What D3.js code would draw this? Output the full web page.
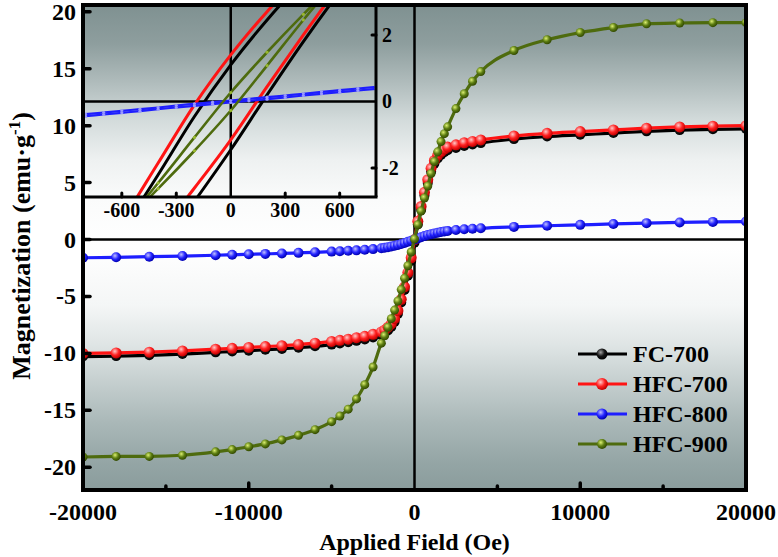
<!DOCTYPE html>
<html><head><meta charset="utf-8">
<script src="https://cdn.jsdelivr.net/npm/d3@7"></script>
<style>
body{margin:0;background:#fff}
svg{display:block}
text{font-family:"Liberation Serif","Times New Roman",serif;font-weight:bold;fill:#000}
</style>
</head><body>
<svg id="c" width="778" height="557"></svg>
<script>
// ---------- data ----------
const seriesNames = ["FC-700", "HFC-700", "HFC-800", "HFC-900"];
const fieldMain = [-20000,-18000,-16000,-14000,-12000,-11000,-10000,-9000,-8000,-7000,-6000,-5000,-4500,-4000,-3500,-3000,-2500,-2000,-1800,-1600,-1400,-1200,-1000,-800,-600,-400,-200,0,200,400,600,800,1000,1200,1400,1600,1800,2000,2500,3000,3500,4000,6000,8000,10000,12000,14000,16000,18000,20000];
const fc700 = [-10.28,-10.24,-10.17,-10.06,-9.91,-9.84,-9.76,-9.68,-9.61,-9.5,-9.38,-9.23,-9.13,-9.03,-8.9,-8.78,-8.6,-8.4,-8.23,-7.98,-7.68,-7.23,-6.53,-5.53,-4.43,-3.18,-1.88,-0.28,1.32,2.62,3.87,4.97,5.97,6.67,7.12,7.42,7.67,7.84,8.04,8.22,8.34,8.47,8.82,9.05,9.2,9.35,9.5,9.61,9.68,9.72];
const hfc700 = [-10.0,-9.96,-9.89,-9.78,-9.63,-9.56,-9.48,-9.4,-9.33,-9.22,-9.1,-8.95,-8.85,-8.75,-8.62,-8.5,-8.32,-8.12,-7.95,-7.7,-7.4,-6.95,-6.25,-5.25,-4.15,-2.9,-1.6,0.0,1.6,2.9,4.15,5.25,6.25,6.95,7.4,7.7,7.95,8.12,8.32,8.5,8.62,8.75,9.1,9.33,9.48,9.63,9.78,9.89,9.96,10.0];
const hfc800 = [-1.6,-1.56,-1.51,-1.45,-1.38,-1.34,-1.3,-1.26,-1.22,-1.17,-1.12,-1.06,-1.03,-0.99,-0.95,-0.9,-0.84,-0.77,-0.72,-0.67,-0.61,-0.54,-0.47,-0.4,-0.3,-0.2,-0.1,0.0,0.1,0.2,0.3,0.4,0.47,0.54,0.6,0.66,0.71,0.76,0.84,0.9,0.95,0.99,1.11,1.21,1.29,1.37,1.44,1.5,1.55,1.58];
const hfc900 = [-19.1,-19.05,-19.05,-18.95,-18.65,-18.45,-18.2,-17.95,-17.6,-17.2,-16.7,-16.0,-15.5,-14.9,-14.0,-12.75,-11.2,-9.1,-8.45,-7.7,-6.95,-6.2,-5.4,-4.4,-3.4,-2.3,-1.1,0.05,1.3,2.5,3.65,4.7,5.8,6.85,7.7,8.6,9.3,9.9,11.5,12.8,13.9,14.75,16.6,17.55,18.18,18.62,18.95,19.02,19.05,19.05];

const insetField = [-800,-600,-400,-200,0,200,400,600,800];
const fc700Up    = [-5.5,-3.9,-2.2,-0.45,1.1,2.45,3.65,4.7,5.55];
const fc700Down  = [-7.2,-5.9,-4.5,-3.0,-1.45,0.2,1.8,3.3,4.7];
const hfc700Up   = [-5.2,-3.6,-1.85,-0.1,1.4,2.7,3.85,4.85,5.7];
const hfc700Down = [-6.8,-5.4,-4.0,-2.6,-1.15,0.45,2.0,3.5,4.9];
const hfc900Up   = [-5.0,-3.75,-2.45,-1.08,0.27,1.48,2.62,3.7,4.7];
const hfc900Down = [-4.7,-3.7,-2.62,-1.48,-0.27,1.08,2.45,3.75,5.0];
const insetFieldFine = [-800,-700,-600,-500,-400,-300,-200,-100,0,100,200,300,400,500,600,700,800];
const hfc800Up   = [-0.38,-0.33,-0.28,-0.23,-0.18,-0.12,-0.07,-0.02,0.03,0.08,0.13,0.18,0.23,0.29,0.34,0.39,0.44];
const hfc800Down = [-0.44,-0.39,-0.34,-0.29,-0.23,-0.18,-0.13,-0.08,-0.03,0.02,0.07,0.12,0.18,0.23,0.28,0.33,0.38];

const xTicksMain = [-20000,-10000,0,10000,20000];
const xMinorMain = [-15000,-5000,5000,15000];
const yTicksMain = [-20,-15,-10,-5,0,5,10,15,20];
const xTicksInset = [-600,-300,0,300,600];
const yTicksInset = [-2,0,2];

// ---------- styles ----------
const colors = {"FC-700":"#000000","HFC-700":"#ff1414","HFC-800":"#1e1eff","HFC-900":"#4e6b0e"};
const grad = {"FC-700":["#a0a0a0","#151515","#000000"],"HFC-700":["#ffc8c8","#ff2222","#c00000"],"HFC-800":["#c0c0ff","#2424ff","#0000b0"],"HFC-900":["#dcf070","#5c7d12","#334a00"]};
const radius = {"FC-700":5,"HFC-700":5.5,"HFC-800":5,"HFC-900":4.5};

const svg = d3.select("#c");
const L=83, R=746, T=5, B=490;
const x = d3.scaleLinear().domain([-20000,20000]).range([L,R]);
const y = d3.scaleLinear().domain([-22,20.6]).range([B,T]);

const defs = svg.append("defs");
const bg = defs.append("linearGradient").attr("id","bg").attr("x1",0).attr("y1",0).attr("x2",0).attr("y2",1);
[[0,"#7f9191"],[0.08,"#8e9e9e"],[0.16,"#b0bcbc"],[0.24,"#d4dcdc"],[0.32,"#eef1f1"],[0.4,"#fafbfb"],[0.5,"#ffffff"],[0.62,"#f4f6f6"],[0.7,"#dfe5e5"],[0.78,"#c4cece"],[0.86,"#aab8b8"],[0.94,"#95a6a6"],[1,"#8a9c9c"]]
  .forEach(([o,c])=>bg.append("stop").attr("offset",o).attr("stop-color",c));
seriesNames.forEach((s,i)=>{
  const g = defs.append("radialGradient").attr("id","m"+i).attr("cx","38%").attr("cy","35%").attr("r","65%");
  g.append("stop").attr("offset",0).attr("stop-color",grad[s][0]);
  g.append("stop").attr("offset",0.55).attr("stop-color",grad[s][1]);
  g.append("stop").attr("offset",1).attr("stop-color",grad[s][2]);
});
defs.append("clipPath").attr("id","plotclip").append("rect").attr("x",L).attr("y",T).attr("width",R-L).attr("height",B-T);

svg.append("rect").attr("x",L).attr("y",T).attr("width",R-L).attr("height",B-T).attr("fill","url(#bg)");

// zero lines
svg.append("line").attr("x1",L).attr("x2",R).attr("y1",y(0)).attr("y2",y(0)).attr("stroke","#000").attr("stroke-width",2.5);
svg.append("line").attr("x1",x(0)).attr("x2",x(0)).attr("y1",T).attr("y2",B).attr("stroke","#000").attr("stroke-width",2.5);

// ---------- inset ----------
const iL=L, iR=376, iT=T, iB=197;
const xi = d3.scaleLinear().domain([-800,800]).range([85.5,iR]);
const yi = d3.scaleLinear().domain([-2.87,2.9]).range([iB,iT]);
defs.append("clipPath").attr("id","insetclip").append("rect").attr("x",iL).attr("y",iT).attr("width",iR-iL).attr("height",iB-iT);
const ig = svg.append("g");
ig.append("line").attr("x1",iL).attr("x2",iR).attr("y1",yi(0)).attr("y2",yi(0)).attr("stroke","#000").attr("stroke-width",2.5);
ig.append("line").attr("x1",xi(0)).attr("x2",xi(0)).attr("y1",iT).attr("y2",iB).attr("stroke","#000").attr("stroke-width",2.5);
const icurves = ig.append("g").attr("clip-path","url(#insetclip)");
const iline = d3.line().curve(d3.curveMonotoneX);
const insetSets = [
  ["FC-700", insetField, [fc700Up, fc700Down], false, 3],
  ["HFC-700", insetField, [hfc700Up, hfc700Down], false, 3],
  ["HFC-800", insetFieldFine, [hfc800Up, hfc800Down], true, 2.2],
  ["HFC-900", insetField, [hfc900Up, hfc900Down], true, 2.6]
];
insetSets.forEach(([s,f,branches,dots,w])=>{
  branches.forEach(vals=>{
    const pts = f.map((h,i)=>[xi(h), yi(vals[i])]);
    icurves.append("path").attr("d",iline(pts)).attr("fill","none").attr("stroke",colors[s]).attr("stroke-width",w);
    if(dots){
      icurves.selectAll(null).data(pts).enter().append("circle")
        .attr("cx",d=>d[0]).attr("cy",d=>d[1]).attr("r",1.6)
        .attr("fill",s==="HFC-800"?"#9a9aff":"#98b830");
    }
  });
});
// inset frame
ig.append("line").attr("x1",iL).attr("x2",iR+1.5).attr("y1",iB).attr("y2",iB).attr("stroke","#000").attr("stroke-width",3);
ig.append("line").attr("x1",iR).attr("x2",iR).attr("y1",iT).attr("y2",iB).attr("stroke","#000").attr("stroke-width",3);
ig.selectAll(null).data(xTicksInset.filter(d=>d!==0)).enter().append("line")
  .attr("x1",d=>xi(d)).attr("x2",d=>xi(d)).attr("y1",iB).attr("y2",iB-4).attr("stroke","#000").attr("stroke-width",3).attr("stroke-linecap","round");
ig.selectAll(null).data(yTicksInset.filter(d=>d!==0)).enter().append("line")
  .attr("x1",iR).attr("x2",iR-4).attr("y1",d=>yi(d)).attr("y2",d=>yi(d)).attr("stroke","#000").attr("stroke-width",3).attr("stroke-linecap","round");
ig.selectAll(null).data(xTicksInset).enter().append("text")
  .attr("x",d=>xi(d)).attr("y",iB+20).attr("text-anchor","middle").attr("font-size",20).text(d=>d);
ig.selectAll(null).data(yTicksInset).enter().append("text")
  .attr("x",iR+6).attr("y",d=>yi(d)+7).attr("text-anchor","start").attr("font-size",20).text(d=>d);

// ---------- main curves ----------
const mg = svg.append("g").attr("clip-path","url(#plotclip)");
const mline = d3.line().curve(d3.curveMonotoneX);
const mainSets = [["FC-700",fc700],["HFC-700",hfc700],["HFC-800",hfc800],["HFC-900",hfc900]];
mainSets.forEach(([s,vals],i)=>{
  const pts = fieldMain.map((h,j)=>[x(h),y(vals[j])]);
  mg.append("path").attr("d",mline(pts)).attr("fill","none").attr("stroke",colors[s]).attr("stroke-width",3.2);
  mg.selectAll(null).data(pts).enter().append("circle")
    .attr("cx",d=>d[0]).attr("cy",d=>d[1]).attr("r",radius[s]).attr("fill",`url(#m${i})`);
});

// ---------- main frame & axes ----------
svg.append("rect").attr("x",L).attr("y",T).attr("width",R-L).attr("height",B-T).attr("fill","none").attr("stroke","#000").attr("stroke-width",4);
svg.selectAll(null).data(yTicksMain).enter().append("line")
  .attr("x1",L).attr("x2",L+7).attr("y1",d=>y(d)).attr("y2",d=>y(d)).attr("stroke","#000").attr("stroke-width",3.5).attr("stroke-linecap","round");
svg.selectAll(null).data(xTicksMain.filter(d=>Math.abs(d)<20000 && d!==0)).enter().append("line")
  .attr("x1",d=>x(d)).attr("x2",d=>x(d)).attr("y1",B).attr("y2",B-7).attr("stroke","#000").attr("stroke-width",3.5).attr("stroke-linecap","round");
svg.selectAll(null).data(xMinorMain).enter().append("line")
  .attr("x1",d=>x(d)).attr("x2",d=>x(d)).attr("y1",B).attr("y2",B-4).attr("stroke","#000").attr("stroke-width",3.5).attr("stroke-linecap","round");
svg.selectAll(null).data(yTicksMain).enter().append("text")
  .attr("x",L-7).attr("y",d=>y(d)+8).attr("text-anchor","end").attr("font-size",24).text(d=>d);
svg.selectAll(null).data(xTicksMain).enter().append("text")
  .attr("x",d=>x(d)).attr("y",B+30).attr("text-anchor","middle").attr("font-size",24).text(d=>d);

svg.append("text").attr("x",x(0)).attr("y",550).attr("text-anchor","middle").attr("font-size",24).text("Applied Field (Oe)");
const yt = svg.append("text").attr("transform",`translate(30,246) rotate(-90)`).attr("text-anchor","middle").attr("font-size",26);
yt.append("tspan").text("Magnetization (emu·g");
yt.append("tspan").attr("dy",-10).attr("font-size",17).text("-1");
yt.append("tspan").attr("dy",10).text(")");

// ---------- legend ----------
const lg = svg.append("g");
const ly = [354,384,414,444];
seriesNames.forEach((s,i)=>{
  lg.append("line").attr("x1",578).attr("x2",627).attr("y1",ly[i]).attr("y2",ly[i]).attr("stroke",colors[s]).attr("stroke-width",3.2);
  lg.append("circle").attr("cx",602).attr("cy",ly[i]).attr("r",radius[s]+0.5).attr("fill",`url(#m${i})`);
  lg.append("text").attr("x",633).attr("y",ly[i]+8).attr("font-size",24).text(s);
});
</script>
</body></html>
